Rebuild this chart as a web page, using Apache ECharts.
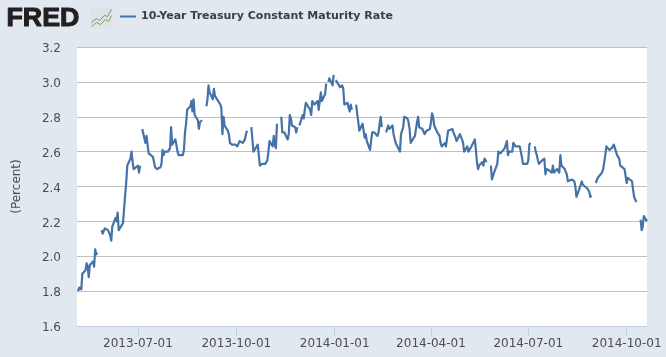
<!DOCTYPE html>
<html>
<head>
<meta charset="utf-8">
<title>10-Year Treasury Constant Maturity Rate</title>
<script src="https://cdn.jsdelivr.net/npm/echarts@6/dist/echarts.min.js"></script>
<style>
  html, body { margin: 0; padding: 0; background: #e1e8f0; }
  #main { width: 666px; height: 357px; }
</style>
</head>
<body>
<div id="main"></div>
<script>
// weekday values per month, null = market holiday
var may2013 = [1.80,1.82,1.81,1.81,1.90, 1.92,1.96,1.94,1.88,1.95, 1.97,1.94,2.04,2.01,2.02, null,2.15,2.13,2.13,2.16];
var jun2013 = [2.15,2.14,2.12,2.09,2.17, 2.22,2.20,2.25,2.15,2.15, 2.19,2.20,2.35,2.42,2.52, 2.56,2.60,2.54,2.50,2.50];
var jul2013 = [2.52,2.48,2.52,null,2.73, 2.65,2.69,2.64,2.59,2.60, 2.57,2.54,2.51,2.51,2.50, 2.51,2.53,2.61,2.58,2.60, 2.60,2.60,2.62];
var aug2013 = [2.74,2.64, 2.67,2.66,2.60,2.58,2.57, 2.58,2.61,2.71,2.76,2.84, 2.86,2.89,2.83,2.90,2.81, 2.78,2.73,2.77,2.76,2.78];
var sep2013 = [null,2.86,2.90,2.98,2.94, 2.90,2.96,2.92,2.92,2.90, 2.87,2.85,2.70,2.80,2.75, 2.72,2.70,2.65,2.65,2.64, 2.64];
var oct2013 = [2.64,2.63,2.62,2.66, 2.65,2.66,2.67,2.70,2.72, null,2.74,2.67,2.60,2.59, 2.64,2.58,2.52,2.52,2.53, 2.53,2.54,2.55,2.60];
var nov2013 = [2.66, 2.63,2.69,2.64,2.62,2.76, null,2.80,2.71,2.71,2.71, 2.67,2.70,2.81,2.79,2.75, 2.74,2.71,2.74,null,2.75];
var dec2013 = [2.81,2.79,2.84,2.88,2.87, 2.84,2.81,2.89,2.88,2.87, 2.89,2.84,2.89,2.94,2.89, 2.93,2.99,null,3.00,3.02, 2.98,3.04];
var jan2014 = [null,3.01,3.00, 2.97,2.96,2.98,2.96,2.87, 2.88,2.85,2.83,2.87,2.84, null,2.87,2.82,2.77,2.72, 2.76,2.77,2.68,2.70,2.66];
var feb2014 = [2.61,2.66,2.71,2.71,2.71, 2.69,2.71,2.76,2.80,2.74, null,2.71,2.73,2.75,2.73, 2.75,2.70,2.70,2.65,2.66];
var mar2014 = [2.60,2.70,2.70,2.74,2.80, 2.79,2.77,2.73,2.65,2.65, 2.69,2.68,2.77,2.80,2.74, 2.73,2.74,2.70,2.69,2.72, 2.73];
var apr2014 = [2.77,2.82,2.80,2.75, 2.71,2.71,2.69,2.65,2.63, 2.65,2.63,2.64,2.72,2.72, 2.73,2.71,2.70,2.68,2.66, 2.70,2.71,2.67];
var may2014 = [2.65,2.60, 2.63,2.60,2.60,2.62,2.62, 2.67,2.61,2.54,2.50,2.52, 2.54,2.52,2.56,2.55,2.54, null,2.52,2.44,2.45,2.48];
var jun2014 = [2.53,2.60,2.61,2.59,2.60, 2.62,2.64,2.66,2.58,2.60, 2.60,2.65,2.66,2.63,2.62, 2.63,2.63,2.57,2.53,2.53, 2.53];
var jul2014 = [2.55,2.64,2.65,null, 2.63,2.60,2.58,2.55,2.53, 2.55,2.56,2.56,2.47,2.50, 2.49,2.48,2.48,2.52,2.48, 2.50,2.50,2.48,2.58];
var aug2014 = [2.52, 2.50,2.50,2.47,2.43,2.43, 2.44,2.45,2.43,2.40,2.34, 2.39,2.40,2.43,2.41,2.40, 2.39,2.39,2.37,2.34,2.35];
var sep2014 = [null,2.42,2.41,2.45,2.46, 2.48,2.50,2.54,2.58,2.63, 2.61,2.60,2.62,2.62,2.64, 2.58,2.57,2.56,2.52,2.53, 2.50,2.50];
var oct2014 = [2.42,2.45,2.45, 2.43,2.38,2.34,2.34,2.31, null,2.21,2.15,2.17,2.23, 2.20];

var monthStarts = [[2013,4,6],[2013,5,3],[2013,6,1],[2013,7,1],[2013,8,2],[2013,9,1],[2013,10,1],[2013,11,2],
                   [2014,0,1],[2014,1,3],[2014,2,3],[2014,3,1],[2014,4,1],[2014,5,2],[2014,6,1],[2014,7,1],[2014,8,1],[2014,9,1]];
var monthValues = [may2013,jun2013,jul2013,aug2013,sep2013,oct2013,nov2013,dec2013,
                   jan2014,feb2014,mar2014,apr2014,may2014,jun2014,jul2014,aug2014,sep2014,oct2014];

var tickDates = ['2013-07-01','2013-10-01','2014-01-01','2014-04-01','2014-07-01','2014-10-01'];
var yTicks = ['1.6','1.8','2.0','2.2','2.4','2.6','2.8','3.0','3.2'];
var seriesName = '10-Year Treasury Constant Maturity Rate';

function localTime(s) {
    var p = s.split('-');
    return new Date(+p[0], +p[1] - 1, +p[2]).getTime();
}

// walk the weekdays of each month and pair them with the values
var points = [];
monthValues.forEach(function (vals, m) {
    var d = new Date(monthStarts[m][0], monthStarts[m][1], monthStarts[m][2]);
    vals.forEach(function (v) {
        while (d.getDay() === 0 || d.getDay() === 6) d.setDate(d.getDate() + 1);
        points.push([d.getTime(), v]);
        d.setDate(d.getDate() + 1);
    });
});

var tickValues = tickDates.map(localTime);
var textColor = '#4d4d4d';
var textFont = '"DejaVu Sans", sans-serif';

var myChart = echarts.init(document.getElementById('main'), null, {renderer: 'canvas'});

var option = {
    animation: false,
    backgroundColor: '#e1e8f0',
    legend: {
        left: 120,
        top: 11,
        padding: 0,
        icon: 'rect',
        itemWidth: 16,
        itemHeight: 2,
        itemGap: 0,
        data: [seriesName],
        textStyle: {
            color: '#3e3e3e',
            fontFamily: textFont,
            fontWeight: 'bold',
            fontSize: 11
        }
    },
    grid: {left: 77, top: 47, width: 570, height: 279, backgroundColor: '#fff', show: true, borderWidth: 0},
    xAxis: {
        // plain numeric axis on timestamps, time axis breaks with customValues
        type: 'value',
        min: localTime('2013-05-05'),
        max: localTime('2014-10-20'),
        splitLine: {show: false},
        minorTick: {show: false},
        axisLine: {lineStyle: {color: '#c0d0e0', width: 1}},
        axisTick: {customValues: tickValues, length: 10, lineStyle: {color: '#c0d0e0'}},
        axisLabel: {
            customValues: tickValues,
            margin: 12,
            color: textColor,
            fontFamily: textFont,
            fontSize: 12,
            hideOverlap: false,
            formatter: function (v) {
                return echarts.time.format(v, '{yyyy}-{MM}-{dd}', false);
            }
        }
    },
    yAxis: {
        type: 'value',
        min: +yTicks[0],
        max: +yTicks[yTicks.length - 1],
        interval: 0.2,
        name: '(Percent)',
        nameLocation: 'middle',
        nameGap: 54,
        nameTextStyle: {color: textColor, fontFamily: textFont, fontSize: 12},
        axisLine: {show: false},
        axisTick: {show: false},
        splitLine: {lineStyle: {color: '#c0c0c0', width: 1}},
        axisLabel: {
            margin: 16,
            formatter: function (v) { return '{n|' + v.toFixed(1) + '}'; },
            rich: {
                // pushes the labels slightly below their gridline
                n: {color: textColor, fontFamily: textFont, fontSize: 12, padding: [4, 0, 0, 0]}
            }
        }
    },
    series: [
        {
            name: seriesName,
            type: 'line',
            data: points,
            showSymbol: false,
            connectNulls: false,
            color: '#4572a7',
            lineStyle: {width: 2.2, join: 'round'},
            emphasis: {disabled: true}
        }
    ],
    graphic: [
        // FRED logo
        {
            type: 'text', left: 6, top: 6, z: 10, scaleX: 1.07,
            style: {
                text: 'FRED',
                fill: '#231f20',
                stroke: '#231f20',
                lineWidth: 1,
                font: 'bold 25px "Liberation Sans", sans-serif'
            }
        },
        {
            type: 'group', left: 89, top: 7, z: 10,
            children: [
                {type: 'rect', shape: {x: 0, y: 0, width: 22, height: 20}, style: {fill: '#dfe3e3'}},
                {type: 'polyline', shape: {points: [[1,15],[6,11],[9,13],[14,8],[17,9],[21,2]]}, style: {stroke: '#6f8ea6', fill: null, lineWidth: 1}},
                {type: 'polyline', shape: {points: [[1,19],[6,15],[10,17],[15,12],[18,14],[21,8]]}, style: {stroke: '#7ea35a', fill: null, lineWidth: 1}}
            ]
        }
    ]
};

myChart.setOption(option);
</script>
</body>
</html>
